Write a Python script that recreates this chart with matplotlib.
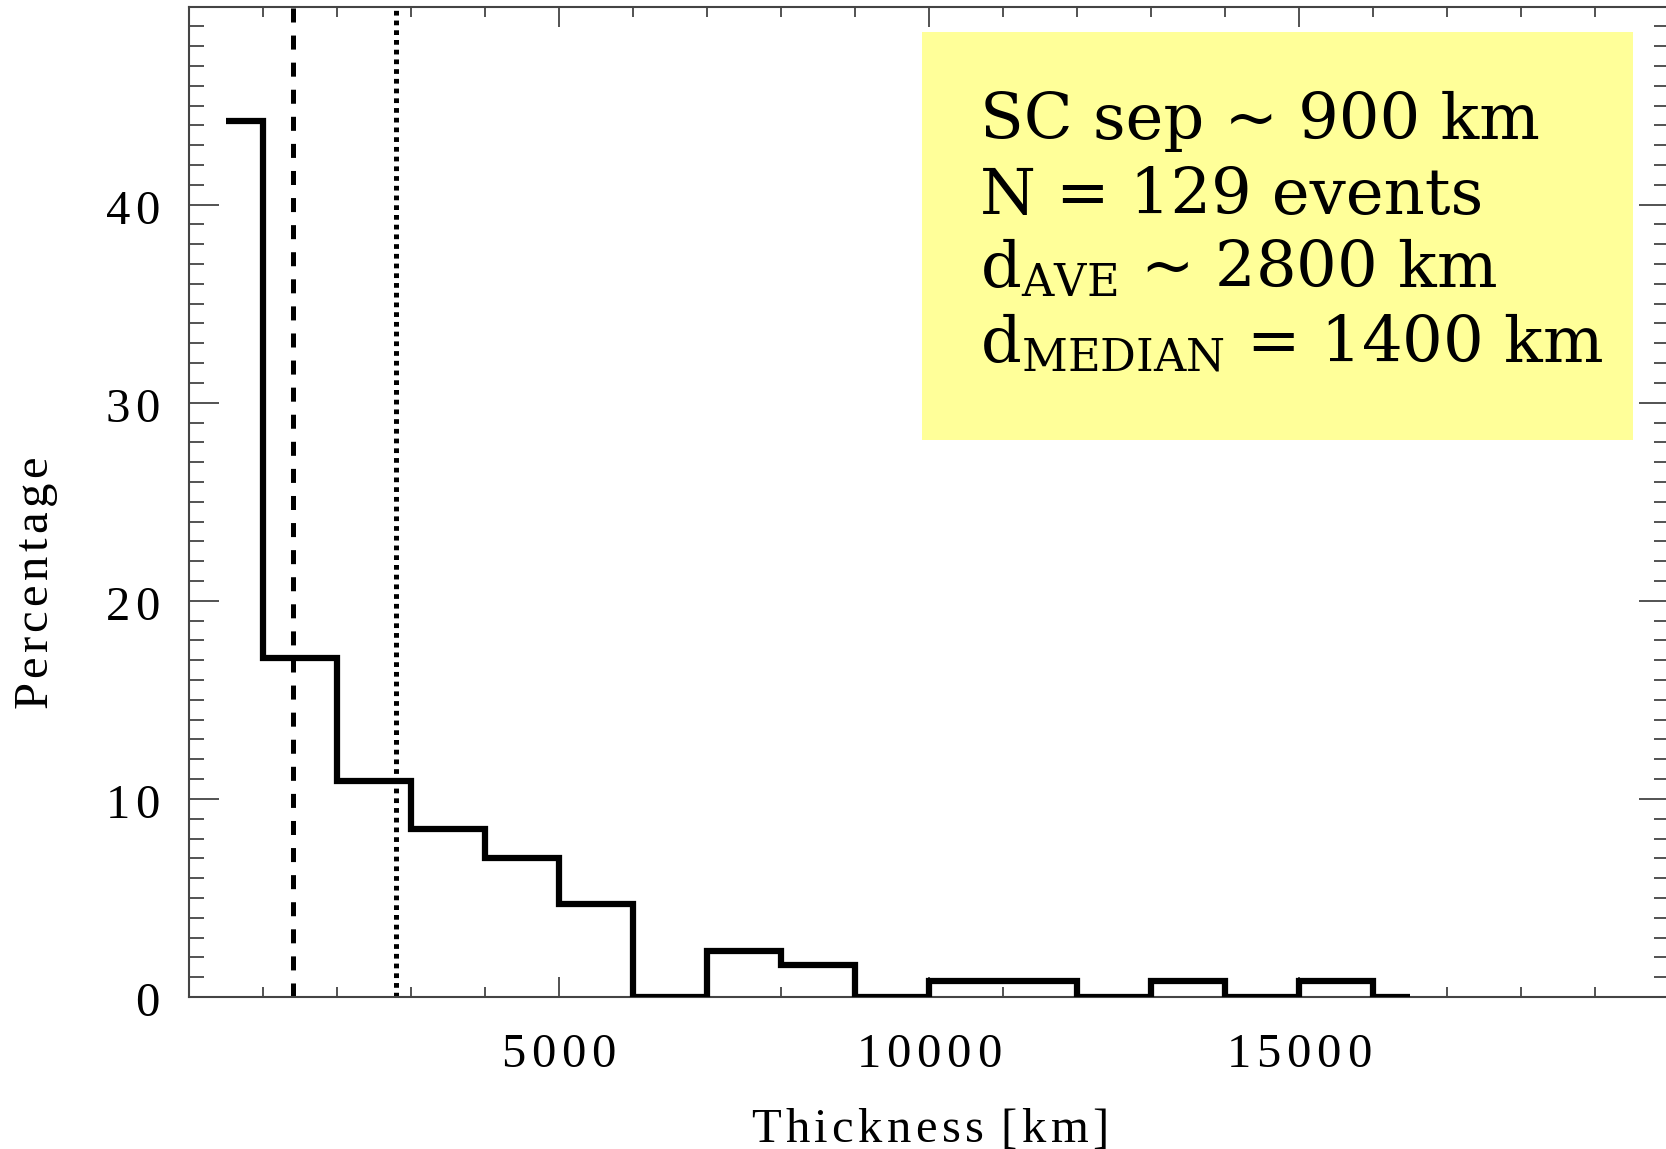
import matplotlib
matplotlib.use("Agg")
import matplotlib.pyplot as plt
from matplotlib.ticker import MultipleLocator, FuncFormatter
from matplotlib.patches import Rectangle

# ---- data ----
bin_centers_km = [500, 1500, 2500, 3500, 4500, 5500, 6500, 7500, 8500,
                  9500, 10500, 11500, 12500, 13500, 14500, 15500, 16500]
percentage = [44.2, 17.1, 10.9, 8.5, 7.0, 4.7, 0.0, 2.3, 1.6,
              0.0, 0.8, 0.8, 0.0, 0.8, 0.0, 0.8, 0.0]
median_km = 1400
mean_km = 2800
box_lines = [r"SC sep ~ 900 km",
             r"N = 129 events",
             r"d$_{\mathrm{AVE}}$ ~ 2800 km",
             r"d$_{\mathrm{MEDIAN}}$ = 1400 km"]
xlabel = "Thickness [km]"
ylabel = "Percentage"

plt.rcParams['lines.scale_dashes'] = False
plt.rcParams['mathtext.fontset'] = 'custom'
plt.rcParams['mathtext.rm'] = 'Liberation Serif'
plt.rcParams['mathtext.it'] = 'Liberation Serif:italic'
plt.rcParams['mathtext.bf'] = 'Liberation Serif:bold'


def spaced(s, gap=0.1):
    parts = []
    for ch in s:
        if ch == ' ':
            parts.append(r'\hspace{0.25}')
        else:
            parts.append(r'\mathrm{' + ch + '}')
    return '$' + (r'\hspace{%g}' % gap).join(parts) + '$'


W, H = 1666, 1149
fig = plt.figure(figsize=(W / 100, H / 100), dpi=100)
ax = fig.add_axes([189 / W, (H - 997) / H, 1480 / W, 990.5 / H])

ax.step(bin_centers_km, percentage, where='mid', color='black', lw=4.5,
        solid_joinstyle='miter', solid_capstyle='butt', zorder=3)
ax.axvline(median_km, color='black', lw=3.6, dashes=[10.1, 9.4], zorder=2)
ax.axvline(mean_km, color='black', lw=3.6, dashes=[3.4, 3.6], zorder=2)

ax.set_xlim(0, 20000)
ax.set_ylim(0, 50)

ax.xaxis.set_major_locator(MultipleLocator(5000))
ax.xaxis.set_minor_locator(MultipleLocator(1000))
ax.yaxis.set_major_locator(MultipleLocator(10))
ax.yaxis.set_minor_locator(MultipleLocator(1))


def xfmt(v, p):
    return spaced(f"{int(round(v))}", 0.17) if 0 < v < 20000 else ""


def yfmt(v, p):
    return spaced(f"{int(round(v))}", 0.17) if v < 50 else ""


ax.xaxis.set_major_formatter(FuncFormatter(xfmt))
ax.yaxis.set_major_formatter(FuncFormatter(yfmt))

tc = '#444444'
ax.tick_params(axis='x', which='both', direction='in', top=True, bottom=True,
               color=tc, width=1.3, labelsize=35)
ax.tick_params(axis='y', which='both', direction='in', left=True, right=True,
               color=tc, width=1.3, labelsize=35)
ax.tick_params(axis='x', which='major', length=14.4, pad=23)
ax.tick_params(axis='x', which='minor', length=7.2)
ax.tick_params(axis='y', which='major', length=21.6, pad=21)
ax.tick_params(axis='y', which='minor', length=10.8)
for s in ax.spines.values():
    s.set_color(tc)
    s.set_linewidth(1.5)

ax.set_xlabel(spaced(xlabel, 0.125), fontsize=35)
ax.set_ylabel(spaced(ylabel, 0.125), fontsize=35)
ax.xaxis.set_label_coords(0.5, (997 - 1142) / 990.5)
ax.xaxis.label.set_va('baseline')
ax.yaxis.set_label_coords((36 - 189) / 1480, (997 - 583) / 990.5)
ax.yaxis.label.set_va('center')

# yellow annotation box
x0 = (922 - 189) / 1480
x1 = (1633 - 189) / 1480
y1 = (997 - 32) / 990.5
y0 = (997 - 440) / 990.5
ax.add_patch(Rectangle((x0, y0), x1 - x0, y1 - y0, transform=ax.transAxes,
                       facecolor='#ffff99', edgecolor='none', zorder=1))
baselines = [139, 214, 287, 363]
for line, b in zip(box_lines, baselines):
    ax.text((980 - 189) / 1480, (997 - b) / 990.5, line, transform=ax.transAxes,
            family='DejaVu Serif', fontsize=46, va='baseline', ha='left',
            math_fontfamily='dejavuserif', zorder=4)

fig.savefig("out.png", dpi=100)
